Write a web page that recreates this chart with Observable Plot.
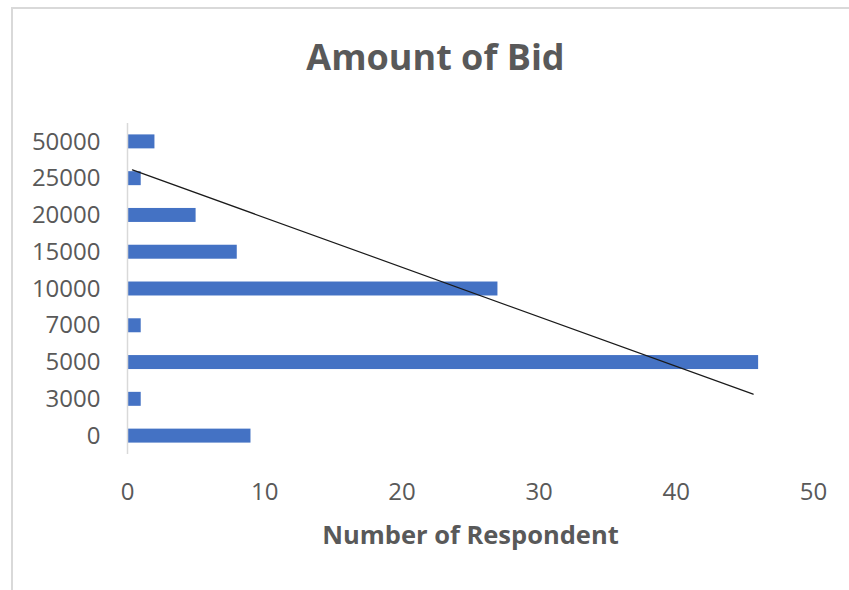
<!DOCTYPE html>
<html>
<head>
<meta charset="utf-8">
<script src="https://cdn.jsdelivr.net/npm/d3@7"></script>
<script src="https://cdn.jsdelivr.net/npm/@observablehq/plot@0.6"></script>
<style>
  html, body { margin: 0; padding: 0; background: #fff; }
  #wrap { position: relative; width: 849px; height: 590px; overflow: hidden; }
  #frame {
    position: absolute; left: 11px; top: 7px; width: 860px; height: 600px;
    border-left: 2px solid #d9d9d9; border-top: 2px solid #d9d9d9;
    pointer-events: none;
  }
  #wrap svg { position: absolute; left: 0; top: 0; }
</style>
</head>
<body>
<div id="wrap"><div id="frame"></div></div>
<script>
// Bid amounts, listed bottom to top as they appear on the vertical axis
const bidLabels = ["0", "3000", "5000", "7000", "10000", "15000", "20000", "25000", "50000"];
// Number of respondents for each bid amount
const respondents = [9, 1, 46, 1, 27, 8, 5, 1, 2];
// Straight trend line: respondent counts and bid-row positions of its two ends
const trendRespondents = [0.36, 45.6];
const trendRows = [7.24, 1.14];
const xTicks = [0, 10, 20, 30, 40, 50];

const bars = bidLabels.map((label, i) => ({label, row: i, count: respondents[i]}));
const trend = trendRespondents.map((x, i) => ({x, row: trendRows[i]}));

const gray = "#595959";
const barHalf = 0.19;

const chart = Plot.plot({
  width: 849,
  height: 590,
  marginLeft: 127,
  marginRight: 36,
  marginTop: 123,
  marginBottom: 136,
  style: {fontFamily: "'Open Sans', sans-serif", color: gray, background: "transparent"},
  x: {domain: [0, 50]},
  y: {domain: [-0.5, bidLabels.length - 0.5]},
  marks: [
    Plot.rectX(bars, {
      x1: 0, x2: "count",
      y1: d => d.row - barHalf, y2: d => d.row + barHalf,
      fill: "#4472C4"
    }),
    Plot.ruleX([0], {stroke: "#d9d9d9", strokeWidth: 1.5}),
    Plot.line(trend, {x: "x", y: "row", stroke: "#1a1a1a", strokeWidth: 1.2}),
    Plot.axisY({
      ticks: d3.range(bidLabels.length),
      tickFormat: i => bidLabels[i],
      tickSize: 0, tickPadding: 27,
      fontSize: 24, fill: gray, label: null
    }),
    Plot.axisX({
      ticks: xTicks, tickFormat: d => String(d),
      tickSize: 0, tickPadding: 28,
      fontSize: 24, fill: gray, label: null
    }),
    Plot.text(["Number of Respondent"], {
      frameAnchor: "bottom", lineAnchor: "middle", dy: 81,
      fontSize: 25.5, fontWeight: "bold", fill: gray
    }),
    Plot.text(["Amount of Bid"], {
      frameAnchor: "top", lineAnchor: "middle", dx: -35, dy: -65,
      fontSize: 36, fontWeight: "bold", fill: gray
    })
  ]
});

document.getElementById("wrap").prepend(chart);
</script>
</body>
</html>
